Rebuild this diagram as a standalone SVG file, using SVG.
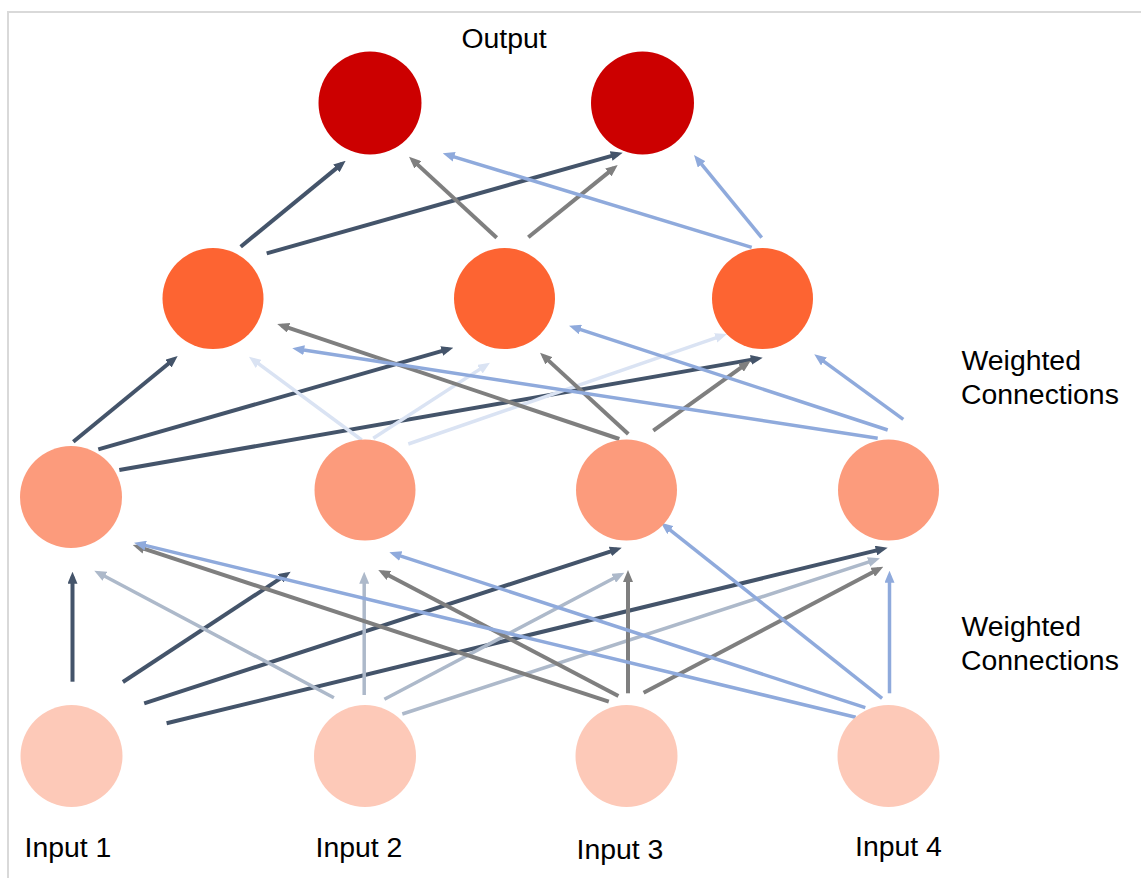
<svg xmlns="http://www.w3.org/2000/svg" width="1141" height="878" viewBox="0 0 1141 878">
<style>
.lbl{font-family:"Liberation Sans",Arial,sans-serif;font-size:28.4px;fill:#000}
.c line{fill:none}
.dk{stroke:#44546A;stroke-width:4;marker-end:url(#mDk)}
.gy{stroke:#7F7F7F;stroke-width:4;marker-end:url(#mGy)}
.lb{stroke:#8FAADC;stroke-width:3.5;marker-end:url(#mLb)}
.gb{stroke:#ADB9CA;stroke-width:3.5;marker-end:url(#mGb)}
.vl{stroke:#DAE3F3;stroke-width:3.5;marker-end:url(#mVl)}
.out{fill:#CC0000}
.h2{fill:#FD6432}
.h1{fill:#FC9B7C}
.in{fill:#FDC9B8}
</style>
<defs>
<marker id="mDk" viewBox="0 0 12 10" markerWidth="12" markerHeight="10" refX="7" refY="5" markerUnits="userSpaceOnUse" orient="auto"><path d="M0,0 L12,5 L0,10 z" fill="#44546A"/></marker>
<marker id="mGy" viewBox="0 0 12 10" markerWidth="12" markerHeight="10" refX="7" refY="5" markerUnits="userSpaceOnUse" orient="auto"><path d="M0,0 L12,5 L0,10 z" fill="#7F7F7F"/></marker>
<marker id="mLb" viewBox="0 0 12 10" markerWidth="12" markerHeight="10" refX="7" refY="5" markerUnits="userSpaceOnUse" orient="auto"><path d="M0,0 L12,5 L0,10 z" fill="#8FAADC"/></marker>
<marker id="mGb" viewBox="0 0 12 10" markerWidth="12" markerHeight="10" refX="7" refY="5" markerUnits="userSpaceOnUse" orient="auto"><path d="M0,0 L12,5 L0,10 z" fill="#ADB9CA"/></marker>
<marker id="mVl" viewBox="0 0 12 10" markerWidth="12" markerHeight="10" refX="7" refY="5" markerUnits="userSpaceOnUse" orient="auto"><path d="M0,0 L12,5 L0,10 z" fill="#DAE3F3"/></marker>
</defs>
<rect width="1141" height="878" fill="#fff"/>
<path d="M8,878 V12 H1141" fill="none" stroke="#D9D9D9" stroke-width="2"/>

<g id="connectors" class="c">
<line class="dk" x1="240.7" y1="246.7" x2="341.8" y2="163.9"/>
<line class="dk" x1="266.7" y1="253.3" x2="617.9" y2="154.1"/>
<line class="gy" x1="496.7" y1="237.7" x2="412.7" y2="160.1"/>
<line class="gy" x1="528.3" y1="237.3" x2="613.8" y2="168.1"/>
<line class="lb" x1="751.7" y1="247.3" x2="447.5" y2="154.8"/>
<line class="lb" x1="761.7" y1="237.7" x2="697.2" y2="158.9"/>

<line class="dk" x1="73.3" y1="441.7" x2="173.8" y2="359.2"/>
<line class="dk" x1="98.3" y1="449.3" x2="448.5" y2="349.1"/>
<line class="dk" x1="119.3" y1="470" x2="757.8" y2="358.6"/>
<line class="vl" x1="361.7" y1="440" x2="253" y2="359.7"/>
<line class="vl" x1="373.3" y1="438.3" x2="485.8" y2="365.4"/>
<line class="vl" x1="408.3" y1="444" x2="722.3" y2="335.6"/>
<line class="gy" x1="619.3" y1="439" x2="282" y2="325.6"/>
<line class="gy" x1="628.3" y1="434" x2="543.7" y2="356.1"/>
<line class="gy" x1="653.3" y1="430.7" x2="746.6" y2="363.6"/>
<line class="lb" x1="877.7" y1="438.3" x2="297.2" y2="349.1"/>
<line class="lb" x1="887.7" y1="430" x2="573.8" y2="327.3"/>
<line class="lb" x1="903.3" y1="419.3" x2="818.3" y2="357.3"/>

<line class="dk" x1="72.5" y1="681.7" x2="72.5" y2="576.7"/>
<line class="dk" x1="122.9" y1="682" x2="286.5" y2="574.4"/>
<line class="dk" x1="144.2" y1="703.3" x2="617" y2="549.3"/>
<line class="dk" x1="166.6" y1="723.3" x2="882.8" y2="548.9"/>
<line class="gb" x1="333.9" y1="697.7" x2="98.7" y2="573"/>
<line class="gb" x1="364.2" y1="695" x2="364.2" y2="576.7"/>
<line class="gb" x1="384.4" y1="699.3" x2="619.9" y2="575"/>
<line class="gb" x1="402.3" y1="714" x2="875.2" y2="559.9"/>
<line class="gy" x1="608.8" y1="701.7" x2="137.5" y2="546.6"/>
<line class="gy" x1="618.4" y1="696" x2="382.7" y2="572.3"/>
<line class="gy" x1="628" y1="693.3" x2="628" y2="575"/>
<line class="gy" x1="643.6" y1="692.7" x2="878.9" y2="569"/>
<line class="lb" x1="855.7" y1="717.3" x2="138.9" y2="543.9"/>
<line class="lb" x1="865.3" y1="707.7" x2="394.1" y2="553.9"/>
<line class="lb" x1="882.1" y1="698.3" x2="664.9" y2="525.8"/>
<line class="lb" x1="889.5" y1="693.3" x2="889.5" y2="575.7"/>
</g>

<g id="out1"><circle class="out" cx="370" cy="103" r="51.5"/></g>
<g id="out2"><circle class="out" cx="642.5" cy="103" r="51.5"/></g>
<g id="h2a"><circle class="h2" cx="213" cy="298.5" r="50.5"/></g>
<g id="h2b"><circle class="h2" cx="504.5" cy="298.5" r="50.5"/></g>
<g id="h2c"><circle class="h2" cx="762.5" cy="298.5" r="50.5"/></g>
<g id="h1a"><circle class="h1" cx="71" cy="497" r="51"/></g>
<g id="h1b"><circle class="h1" cx="365" cy="490" r="50.5"/></g>
<g id="h1c"><circle class="h1" cx="626.5" cy="490" r="50.5"/></g>
<g id="h1d"><circle class="h1" cx="888.5" cy="490" r="50.5"/></g>
<g id="in1"><circle class="in" cx="71.5" cy="756" r="51"/></g>
<g id="in2"><circle class="in" cx="365" cy="756" r="51"/></g>
<g id="in3"><circle class="in" cx="626.5" cy="756" r="51"/></g>
<g id="in4"><circle class="in" cx="888.5" cy="756" r="51"/></g>

<g id="labels">
<text class="lbl" x="461.5" y="47.5">Output</text>
<text class="lbl" x="961.5" y="370">Weighted</text>
<text class="lbl" x="961" y="404">Connections</text>
<text class="lbl" x="961.5" y="636">Weighted</text>
<text class="lbl" x="961" y="670">Connections</text>
<text class="lbl" x="24.5" y="857">Input 1</text>
<text class="lbl" x="315.5" y="857">Input 2</text>
<text class="lbl" x="576.5" y="858.5">Input 3</text>
<text class="lbl" x="855" y="856">Input 4</text>
</g>
</svg>
